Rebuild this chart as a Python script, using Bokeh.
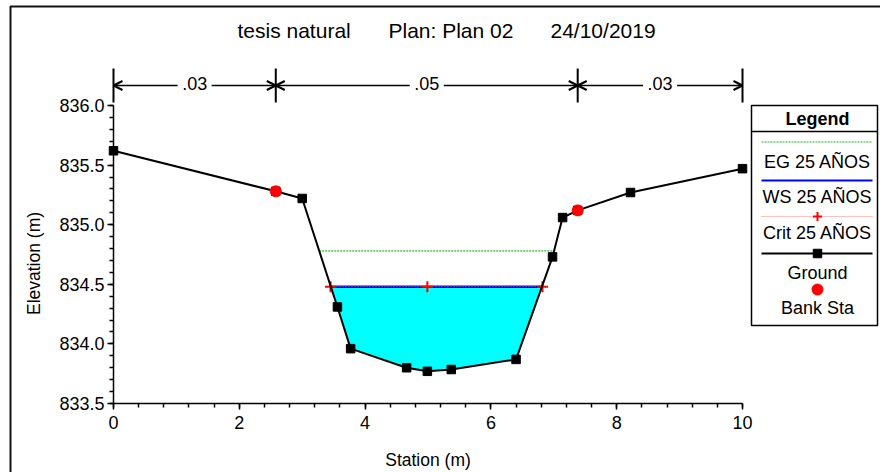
import math
from bokeh.plotting import figure
from bokeh.models import (Range1d, SingleIntervalTicker, PrintfTickFormatter,
                          Arrow, OpenHead, ColumnDataSource)
from bokeh.core.properties import value
from bokeh.embed import file_html
from bokeh.resources import INLINE

# ---------------- data ----------------
station = [0.00, 2.58, 3.00, 3.56, 3.77, 4.66, 4.99, 5.37, 6.40, 6.98, 7.14, 7.38, 8.22, 10.00]
ground = [835.62, 835.28, 835.22, 834.31, 833.96, 833.80, 833.77, 833.785, 833.87, 834.73,
          835.06, 835.12, 835.27, 835.47]
bank_sta = [2.58, 7.38]
bank_elev = [835.28, 835.12]
ws_elev = 834.48          # WS 25 AÑOS
eg_elev = 834.78          # EG 25 AÑOS
crit_sta = [3.45, 4.99, 6.82]
crit_elev = [834.48, 834.48, 834.48]
n_bounds = [0.00, 2.58, 7.38, 10.00]
n_values = [".03", ".05", ".03"]
title_parts = ["tesis natural", "Plan: Plan 02", "24/10/2019"]
legend_title = "Legend"
legend_labels = ["EG 25 AÑOS", "WS 25 AÑOS", "Crit 25 AÑOS", "Ground", "Bank Sta"]
x_label = "Station (m)"
y_label = "Elevation (m)"
x_bounds = (0, 10)
y_bounds = (833.5, 836.0)

FONT = "Liberation Sans"

# ---------------- layout (page pixels; the frame covers the whole canvas) ----------------
W, H = 880, 472
PX0, PX10 = 113, 742        # page x of station 0 and 10
PY_TOP, PY_BOT = 105, 403   # page y of elevation 836.0 and 833.5
ppx = (PX10 - PX0) / (x_bounds[1] - x_bounds[0])
ppy = (PY_BOT - PY_TOP) / (y_bounds[1] - y_bounds[0])


def py2y(py):
    return y_bounds[0] + (PY_BOT - py) / ppy


x_range = Range1d(x_bounds[0] - PX0 / ppx, x_bounds[0] + (W - PX0) / ppx)
y_range = Range1d(py2y(H), py2y(0))

p = figure(width=W, height=H, x_range=x_range, y_range=y_range,
           output_backend="svg", toolbar_location=None, min_border=0,
           min_border_left=0, min_border_right=0, min_border_top=0, min_border_bottom=0)
p.extra_x_ranges = {"px": Range1d(0, W)}
p.extra_y_ranges = {"py": Range1d(H, 0)}
p.grid.visible = False
p.outline_line_color = None
p.background_fill_color = "white"
p.border_fill_color = "white"
PXR = dict(x_range_name="px", y_range_name="py")

# outer border (left and top edges visible in the window)
p.line([10, 10, W], [H, 6, 6], line_color="#111111", line_width=2, **PXR)


def crossings(level):
    out = []
    for i in range(len(station) - 1):
        y0, y1 = ground[i], ground[i + 1]
        if (y0 - level) * (y1 - level) < 0:
            t = (level - y0) / (y1 - y0)
            out.append(station[i] + t * (station[i + 1] - station[i]))
    return out


# water fill
wl, wr = crossings(ws_elev)[0], crossings(ws_elev)[-1]
px_poly = [wl] + [s for s, g in zip(station, ground) if wl < s < wr] + [wr]
py_poly = [ws_elev] + [g for s, g in zip(station, ground) if wl < s < wr] + [ws_elev]
p.patch(px_poly, py_poly, fill_color="#00FFFF", line_color=None)

# EG line
el, er = crossings(eg_elev)[0], crossings(eg_elev)[-1]
p.line([el, er], [eg_elev, eg_elev], line_color="#00A000", line_width=1, line_dash="2 1")
# WS line
p.line([wl, wr], [ws_elev, ws_elev], line_color="#0000FF", line_width=2.5)
# Crit
p.line([crit_sta[0], crit_sta[-1]], [crit_elev[0], crit_elev[-1]], line_color="#FF6060",
       line_width=1, line_dash="1 2")
p.scatter(crit_sta, crit_elev, marker="cross", size=11, line_color="#FF0000", line_width=2)
# Ground
p.line(station, ground, line_color="black", line_width=2)
p.scatter(station, ground, marker="square", size=8.5, fill_color="black", line_color="black")
# Bank stations
p.scatter(bank_sta, bank_elev, marker="circle", size=11, fill_color="#FF0000", line_color="#FF0000")

# Manning n indicators
bar_y0, bar_y1, arr_y = py2y(102), py2y(68), py2y(85)
p.segment(x0=n_bounds, y0=[bar_y0] * len(n_bounds), x1=n_bounds, y1=[bar_y1] * len(n_bounds),
          line_color="black", line_width=2)
gap = 17 / ppx
xs0, xs1 = [], []
for a, b in zip(n_bounds[:-1], n_bounds[1:]):
    c = (a + b) / 2
    xs0 += [c - gap, c + gap]
    xs1 += [a, b]
asrc = ColumnDataSource(dict(x0=xs0, x1=xs1, y0=[arr_y] * len(xs0), y1=[arr_y] * len(xs0)))
p.add_layout(Arrow(end=OpenHead(size=9, line_width=2, line_color="black"),
                   x_start="x0", y_start="y0", x_end="x1", y_end="y1", source=asrc,
                   line_color="black", line_width=1.5))
ncx = [(a + b) / 2 for a, b in zip(n_bounds[:-1], n_bounds[1:])]
p.text(x=ncx, y=[arr_y + 2 / ppy] * len(ncx), text=n_values, text_font=value(FONT),
       text_font_size="18px", text_align="center", text_baseline="middle", text_color="black")

# Title
p.text(x=[237, 388, 550], y=[30, 30, 30], text=title_parts, text_font=value(FONT),
       text_font_size="21px", text_align="left", text_baseline="middle", text_color="black", **PXR)

# Axis titles
p.text(x=[(PX0 + PX10) / 2], y=[459], text=[x_label], text_font=value(FONT),
       text_font_size="17.5px", text_align="center", text_baseline="middle", text_color="black",
       **PXR)
p.text(x=[33], y=[263], text=[y_label], text_font=value(FONT), angle=math.pi / 2,
       text_font_size="17.5px", text_align="center", text_baseline="middle", text_color="black",
       **PXR)

# Legend box
LL, LR, LT, LB = 751, 877, 105, 325
LC = 817
p.quad(left=[LL], right=[LR], top=[LT], bottom=[LB], fill_color="white", line_color="black",
       line_width=1.5, **PXR)
p.segment(x0=[LL], y0=[131], x1=[LR], y1=[131], line_color="black", line_width=1.5, **PXR)
p.text(x=[LC], y=[118], text=[legend_title], text_font=value(FONT), text_font_size="18px",
       text_font_style="bold", text_align="center", text_baseline="middle", **PXR)
p.text(x=[LC] * 5, y=[161, 196, 232, 272, 307], text=legend_labels, text_font=value(FONT),
       text_font_size="18px", text_align="center", text_baseline="middle", text_color="black", **PXR)
lx0, lx1 = 761, 872
p.line([lx0, lx1], [141.5, 141.5], line_color="#22B022", line_width=1, line_dash="2 1", **PXR)
p.line([lx0, lx1], [180, 180], line_color="#0000FF", line_width=2, **PXR)
p.line([lx0, lx1], [216, 216], line_color="#FF8080", line_width=1, line_dash="1 1", **PXR)
p.scatter([LC], [216], marker="cross", size=9, line_color="#FF0000", line_width=2, **PXR)
p.line([lx0, lx1], [253, 253], line_color="black", line_width=2, **PXR)
p.scatter([LC], [253], marker="square", size=8.5, fill_color="black", line_color="black", **PXR)
p.scatter([LC], [289], marker="circle", size=11, fill_color="#FF0000", line_color="#FF0000", **PXR)

# Axes (drawn at fixed data locations inside the full-canvas frame)
for ax in (p.xaxis, p.yaxis):
    ax.axis_line_color = "black"
    ax.axis_line_width = 1.5
    ax.major_tick_line_color = "black"
    ax.minor_tick_line_color = "black"
    ax.major_tick_line_width = 1.5
    ax.minor_tick_line_width = 1.5
    ax.major_tick_in = 0
    ax.major_tick_out = 6
    ax.minor_tick_in = 0
    ax.minor_tick_out = 4
    ax.major_label_text_font = FONT
    ax.major_label_text_font_size = "18px"
    ax.major_label_text_color = "black"

p.xaxis.ticker = SingleIntervalTicker(interval=2, num_minor_ticks=5)
p.xaxis.bounds = x_bounds
p.xaxis.fixed_location = y_bounds[0]
p.xaxis.major_label_standoff = 6

p.yaxis.ticker = SingleIntervalTicker(interval=0.5, num_minor_ticks=5)
p.yaxis.formatter = PrintfTickFormatter(format="%.1f")
p.yaxis.bounds = y_bounds
p.yaxis.fixed_location = x_bounds[0]
p.yaxis.major_label_standoff = 3

open("out.html", "w").write(file_html(p, INLINE))
